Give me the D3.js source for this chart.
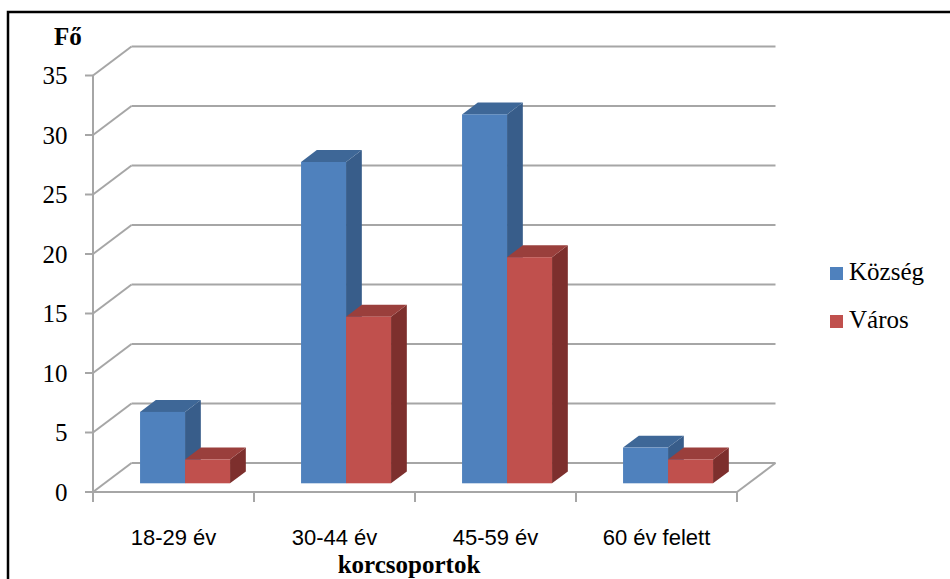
<!DOCTYPE html>
<html><head><meta charset="utf-8">
<script src="https://cdn.jsdelivr.net/npm/d3@7/dist/d3.min.js"></script>
<style>body{margin:0;background:#fff}svg{display:block}</style>
</head><body>
<script>
const categories = ["18-29 év", "30-44 év", "45-59 év", "60 év felett"];
const seriesNames = ["Község", "Város"];
const kozseg = [6, 27, 31, 3];
const varos = [2, 14, 19, 2];
const yTicks = [0, 5, 10, 15, 20, 25, 30, 35];
const yAxisTitle = "Fő";
const xAxisTitle = "korcsoportok";

const W = 950, H = 579;
const svg = d3.select("body").append("svg").attr("width", W).attr("height", H);

// frame
svg.append("rect").attr("x", 8).attr("y", 12).attr("width", 960).attr("height", 600)
  .attr("fill", "#fff").attr("stroke", "#000").attr("stroke-width", 2.5);

const left = 93, right = 737, floorY = 492, topY = 75.5;
const DX = 38.5, DY = -29;  // full depth offset
const y = d3.scaleLinear().domain([0, 35]).range([floorY, topY]);
const x0 = d3.scaleBand().domain(categories).range([left, right]);
const x1 = d3.scaleBand().domain(seriesNames).range([0, x0.bandwidth()]).paddingInner(0).paddingOuter(0.789);

const gridColor = "#a6a6a6";
const g = svg.append("g");
yTicks.forEach(v => {
  g.append("line").attr("x1", left + DX).attr("y1", y(v) + DY).attr("x2", right + DX).attr("y2", y(v) + DY)
    .attr("stroke", gridColor).attr("stroke-width", 2);
  g.append("line").attr("x1", left).attr("y1", y(v)).attr("x2", left + DX).attr("y2", y(v) + DY)
    .attr("stroke", gridColor).attr("stroke-width", 2);
});
g.append("line").attr("x1", left).attr("y1", floorY).attr("x2", right).attr("y2", floorY)
  .attr("stroke", gridColor).attr("stroke-width", 2);
g.append("line").attr("x1", right).attr("y1", floorY).attr("x2", right + DX).attr("y2", floorY + DY)
  .attr("stroke", gridColor).attr("stroke-width", 2);
g.append("line").attr("x1", left).attr("y1", topY).attr("x2", left).attr("y2", floorY)
  .attr("stroke", gridColor).attr("stroke-width", 2);
yTicks.forEach(v => {
  g.append("line").attr("x1", left - 8).attr("x2", left).attr("y1", y(v)).attr("y2", y(v))
    .attr("stroke", gridColor).attr("stroke-width", 2);
  svg.append("text").attr("x", 67.5).attr("y", y(v) + 8.5).attr("text-anchor", "end")
    .attr("font-family", "Liberation Serif").attr("font-size", 25).attr("fill", "#000").text(v);
});
const xTickPos = categories.map(c => x0(c)).concat([right]);
xTickPos.forEach(px => {
  g.append("line").attr("x1", px).attr("x2", px).attr("y1", floorY).attr("y2", floorY + 10)
    .attr("stroke", gridColor).attr("stroke-width", 2);
});

// bars
const t0 = 0.3, depth = 0.41;
const colors = {
  "Község": {front: "#4f81bd", top: "#3e6797", side: "#385d8a"},
  "Város": {front: "#c0504d", top: "#9a3f3c", side: "#7d2f2d"}
};
const seriesData = {"Község": kozseg, "Város": varos};
const ox = DX * t0, oy = DY * t0, ddx = DX * depth, ddy = DY * depth;
const bars = svg.append("g");
categories.forEach((c, i) => {
  seriesNames.forEach(s => {
    const v = seriesData[s][i];
    const bx = x0(c) + x1(s) + ox;
    const bw = x1.bandwidth();
    const yt = y(v) + oy, yb = y(0) + oy;
    const col = colors[s];
    bars.append("path").attr("d", `M${bx + bw},${yt}L${bx + bw + ddx},${yt + ddy}L${bx + bw + ddx},${yb + ddy}L${bx + bw},${yb}Z`)
      .attr("fill", col.side);
    bars.append("path").attr("d", `M${bx},${yt}L${bx + ddx},${yt + ddy}L${bx + bw + ddx},${yt + ddy}L${bx + bw},${yt}Z`)
      .attr("fill", col.top);
    bars.append("rect").attr("x", bx).attr("y", yt).attr("width", bw).attr("height", yb - yt)
      .attr("fill", col.front);
  });
});

categories.forEach(c => {
  svg.append("text").attr("x", x0(c) + x0.bandwidth() / 2).attr("y", 545).attr("text-anchor", "middle")
    .attr("font-family", "Liberation Sans").attr("font-size", 22).attr("fill", "#000").text(c);
});
svg.append("text").attr("x", 409).attr("y", 573).attr("text-anchor", "middle")
  .attr("font-family", "Liberation Serif").attr("font-weight", "bold").attr("font-size", 25).attr("fill", "#000").text(xAxisTitle);
svg.append("text").attr("x", 54).attr("y", 45)
  .attr("font-family", "Liberation Serif").attr("font-weight", "bold").attr("font-size", 25).attr("fill", "#000").text(yAxisTitle);

seriesNames.forEach((s, i) => {
  const base = 280 + i * 48;
  svg.append("rect").attr("x", 830).attr("y", base - 13).attr("width", 13).attr("height", 13).attr("fill", colors[s].front);
  svg.append("text").attr("x", 849).attr("y", base)
    .attr("font-family", "Liberation Serif").attr("font-size", 25).attr("fill", "#000").text(s);
});
</script>
</body></html>
